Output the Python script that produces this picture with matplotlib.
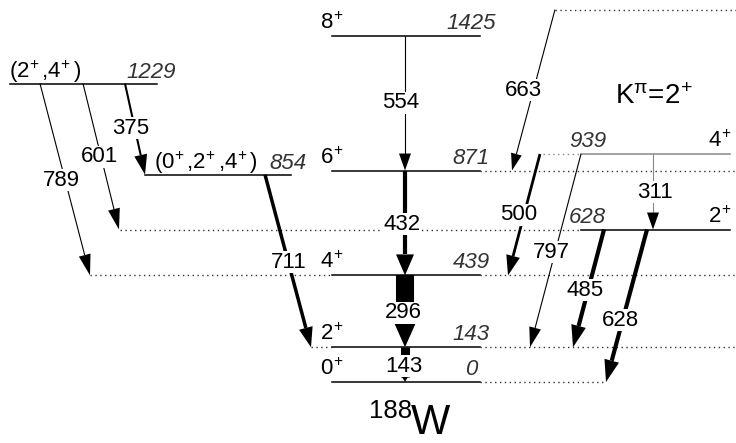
import matplotlib
matplotlib.use("Agg")
import matplotlib.pyplot as plt
from matplotlib.patches import Polygon
import numpy as np

plt.rcParams['font.family'] = ['Liberation Sans', 'DejaVu Sans']
plt.rcParams['mathtext.fontset'] = 'custom'
plt.rcParams['mathtext.rm'] = 'Liberation Sans'
plt.rcParams['mathtext.it'] = 'Liberation Sans:italic'
plt.rcParams['mathtext.default'] = 'regular'

# ---- data: levels (keV) ----
gsb_energy = [0, 143, 439, 871, 1425]
gsb_spin = ['0', '2', '4', '6', '8']
gam_energy = [628, 939]
gam_spin = ['2', '4']
side_energy = [854, 1229]
side_spin = [r'(0$^{\!+}$,2$^{\!+}$,4$^{\!+}$)', r'(2$^{\!+}$,4$^{\!+}$)']
feed_energy = 1534  # feeding level, dotted only

# ---- data: transitions ----
gamma = [789, 601, 375, 711, 554, 432, 296, 143, 663, 500, 797, 485, 628, 311]
e_from = [1229, 1229, 1229, 854, 1425, 871, 439, 143, 1534, 939, 939, 628, 628, 939]
e_to = [439, 628, 854, 143, 871, 439, 143, 0, 871, 439, 143, 143, 0, 628]

# ---- layout (pixels) ----
PX = 0.2428            # pixels per keV
Y0 = 382               # pixel row of 0 keV
def epx(p):            # pixel row -> energy
    return (Y0 - p) / PX

x_start = [40, 83, 125, 265, 405, 405, 405, 405, 555, 540, 581, 604, 647, 653]
x_end = [90, 119, 145, 311, 405, 405, 405, 405, 512, 508, 530, 573, 606, 653]
lws = [0.8, 0.8, 1.5, 2.5, 0.8, 3, 13, 6.5, 0.8, 2, 0.8, 3, 3, 0.8]
head_l = [21, 21, 20, 20, 17, 21, 27, 5, 17, 20, 20, 22, 22, 17]
head_w = [6, 6, 6.5, 7, 6, 9, 12, 3, 5.5, 7, 6, 7.5, 7.5, 6]
lcol = ['black'] * 13 + ['#888888']
lab_x = [61, 100, 131, 289, 401, 402, 403, 404, 523, 519, 551, 585, 620, 655]
lab_y = [180, 157, 128, 262, 103, 224, 313, 366, 90, 215, 252, 290, 320, 192]

fig = plt.figure(figsize=(7.36, 4.43), dpi=100)
ax = fig.add_axes([0, 0, 1, 1])
ax.set_xlim(0, 736)
ax.set_ylim(epx(443), epx(0))
ax.axis('off')

dot = dict(color='#333333', lw=1.0, ls=(0, (1, 2.5)))
tfs = 16

# ground band
for e, s in zip(gsb_energy, gsb_spin):
    ax.plot([332, 480], [e, e], color='black', lw=1.1)
    ax.text(320, e + 7 / PX, s + r'$^{\!+}$', fontsize=tfs,
            ha='left', va='baseline')
    ax.text(471, e + 7 / PX, str(e), fontsize=tfs, ha='center', va='baseline',
            style='italic', color='#333333')
# dotted extensions
ax.plot([480, 736], [871, 871], **dot)
ax.plot([90, 332], [439, 439], **dot)
ax.plot([480, 736], [439, 439], **dot)
ax.plot([311, 332], [143, 143], **dot)
ax.plot([480, 736], [143, 143], **dot)
ax.plot([480, 606], [0, 0], **dot)
ax.plot([555, 736], [feed_energy, feed_energy], **dot)
ax.plot([120, 581], [628, 628], **dot)
ax.plot([543, 581], [939, 939], color='#888888', lw=1.0, ls=(0, (1, 2.5)))

# gamma band
gcol = ['black', '#888888']
for e, s, c, lx in zip(gam_energy, gam_spin, gcol, [587, 588]):
    ax.plot([581, 730], [e, e], color=c, lw=1.1)
    ax.text(731, e + 7 / PX, s + r'$^{\!+}$', fontsize=tfs,
            ha='right', va='baseline')
    ax.text(lx, e + 7 / PX, str(e), fontsize=tfs, ha='center', va='baseline',
            style='italic', color='#333333')

# side levels
side_x = [(145, 291), (10, 157)]
side_lab = [(154, 288), (9, 151)]
for e, s, (a, b), (sx, ex) in zip(side_energy, side_spin, side_x, side_lab):
    ax.plot([a, b], [e, e], color='black', lw=1.1)
    ax.text(sx, e + 6 / PX, s, fontsize=tfs, ha='left', va='baseline')
    ax.text(ex, e + 6 / PX, str(e), fontsize=tfs, ha='center', va='baseline',
            style='italic', color='#333333')


def arrow(x0, e0, x1, e1, lw, hl, hw, color):
    p0 = ax.transData.transform((x0, e0))
    p1 = ax.transData.transform((x1, e1))
    d = p1 - p0
    u = d / np.hypot(*d)
    n = np.array([-u[1], u[0]])
    base = p1 - u * hl
    inv = ax.transData.inverted()
    sx, sy = inv.transform(np.array([p0, base])).T
    ax.plot(sx, sy, color=color, lw=lw, solid_capstyle='butt', zorder=3)
    head = inv.transform(np.array([p1, base + n * hw, base - n * hw]))
    ax.add_patch(Polygon(head, closed=True, facecolor='black', lw=0, zorder=3))


for i, g in enumerate(gamma):
    arrow(x_start[i], e_from[i], x_end[i], e_to[i], lws[i], head_l[i], head_w[i], lcol[i])
    ax.text(lab_x[i], epx(lab_y[i]), str(g), fontsize=tfs, ha='center', va='center',
            zorder=4, bbox=dict(facecolor='white', edgecolor='none', pad=0.5))

ax.text(654, epx(97), r'K$^{\pi}$=2$^{\!+}$', fontsize=20, ha='center', va='center')
ax.text(412, epx(418), '188', fontsize=18.5, ha='right', va='baseline')
ax.text(411, epx(434), 'W', fontsize=30, ha='left', va='baseline')

fig.savefig('out.png', dpi=100)
